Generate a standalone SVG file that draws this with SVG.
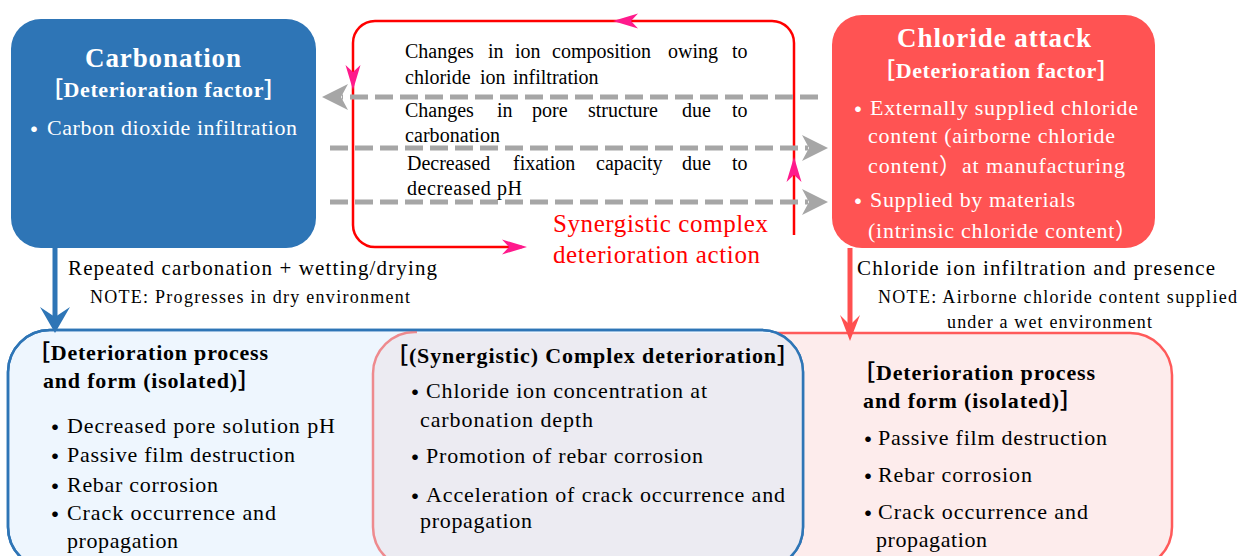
<svg xmlns="http://www.w3.org/2000/svg" width="1244" height="556" viewBox="0 0 1244 556">
<defs>
<style>
text{font-family:'Liberation Serif','Times New Roman',Tinos,'Noto Sans CJK JP',serif;fill:#000}
.w{fill:#fff}
.b{font-weight:bold}
.s18{font-size:18px}
.s20{font-size:20px}
.s21{font-size:21px}
.s22{font-size:22px}
.s25{font-size:25px}
.s27{font-size:27px}
.bul{font-family:'Noto Sans CJK JP',sans-serif;font-size:22px;font-weight:bold;text-anchor:middle}
.red{fill:#FF0000}
.dash{stroke:#A6A6A6;stroke-width:5;stroke-dasharray:18 7;fill:none}
.loop{stroke:#FF0000;stroke-width:2.5;fill:none}
</style>
<path id="gh" d="M0,0 L-26,-13 L-19,0 L-26,13 Z" fill="#A6A6A6"/>
<path id="ph" d="M0,0 L-25,-7.5 L-18,0 L-25,7.5 Z" fill="#FF1A8C"/>
<clipPath id="blueClip"><rect x="8" y="330" width="795" height="239" rx="42"/></clipPath>
</defs>

<!-- bottom boxes -->
<g id="node-chloride-process">
<rect x="373" y="333" width="799" height="236" rx="42" fill="#FDECEC" stroke="#FF5A5A" stroke-width="2.5"/>
</g>
<g id="node-carbonation-process">
<rect x="8" y="330" width="795" height="239" rx="42" fill="#EEF6FE" stroke="#2E75B6" stroke-width="2.5"/>
</g>
<g id="node-complex">
<rect x="373" y="333" width="799" height="236" rx="42" fill="#ECEBF2" clip-path="url(#blueClip)"/>
<path d="M417 332 A42 42 0 0 0 373 375 L373 527 A42 42 0 0 0 415 569" fill="none" stroke="#EE8A8E" stroke-width="2.5"/>
<rect x="8" y="330" width="795" height="239" rx="42" fill="none" stroke="#2E75B6" stroke-width="2.5"/>
</g>

<g id="text-carbonation-process">
<text class="b s22" x="28" y="360" textLength="240">［Deterioration process</text>
<text class="b s22" x="43" y="388" textLength="217">and form (isolated)］</text>
<text class="bul" x="55" y="435">・</text>
<text class="s22" x="67" y="433" textLength="268">Decreased pore solution pH</text>
<text class="bul" x="55" y="464">・</text>
<text class="s22" x="67" y="462" textLength="228">Passive film destruction</text>
<text class="bul" x="55" y="494">・</text>
<text class="s22" x="67" y="492" textLength="151">Rebar corrosion</text>
<text class="bul" x="55" y="522">・</text>
<text class="s22" x="67" y="520" textLength="209">Crack occurrence and</text>
<text class="s22" x="67" y="548" textLength="111">propagation</text>
</g>

<g id="text-complex">
<text class="b s22" x="386" y="363" textLength="413">［(Synergistic) Complex deterioration］</text>
<text class="bul" x="415" y="400">・</text>
<text class="s22" x="426" y="398" textLength="281">Chloride ion concentration at</text>
<text class="s22" x="420" y="427" textLength="173">carbonation depth</text>
<text class="bul" x="415" y="465">・</text>
<text class="s22" x="426" y="463" textLength="277">Promotion of rebar corrosion</text>
<text class="bul" x="415" y="504">・</text>
<text class="s22" x="426" y="502" textLength="359">Acceleration of crack occurrence and</text>
<text class="s22" x="420" y="528" textLength="112">propagation</text>
</g>

<g id="text-chloride-process">
<text class="b s22" x="853" y="380" textLength="242">［Deterioration process</text>
<text class="b s22" x="863" y="408" textLength="219">and form (isolated)］</text>
<text class="bul" x="868" y="447">・</text>
<text class="s22" x="878" y="445" textLength="229">Passive film destruction</text>
<text class="bul" x="868" y="484">・</text>
<text class="s22" x="878" y="482" textLength="154">Rebar corrosion</text>
<text class="bul" x="868" y="521">・</text>
<text class="s22" x="878" y="519" textLength="210">Crack occurrence and</text>
<text class="s22" x="876" y="547" textLength="111">propagation</text>
</g>

<!-- top factor boxes -->
<g id="node-carbonation">
<rect x="11" y="19" width="305" height="229" rx="30" fill="#2E75B6"/>
<text class="w b s27" x="85" y="67" textLength="156">Carbonation</text>
<text class="w b s22" x="41" y="97" textLength="245">［Deterioration factor］</text>
<text class="bul w" x="34" y="137">・</text>
<text class="w s22" x="47" y="135" textLength="250">Carbon dioxide infiltration</text>
</g>

<g id="node-chloride">
<rect x="832" y="15" width="323" height="233" rx="30" fill="#FF5353"/>
<text class="w b s27" x="897" y="47" textLength="194">Chloride attack</text>
<text class="w b s22" x="873" y="78" textLength="246">［Deterioration factor］</text>
<text class="bul w" x="858" y="117">・</text>
<text class="w s22" x="870" y="115" textLength="268">Externally supplied chloride</text>
<text class="w s22" x="868" y="143" textLength="247">content (airborne chloride</text>
<text class="w s22" x="868" y="173" textLength="257">content）at manufacturing</text>
<text class="bul w" x="858" y="209">・</text>
<text class="w s22" x="870" y="207" textLength="205">Supplied by materials</text>
<text class="w s22" x="868" y="238" textLength="269">(intrinsic chloride content）</text>
</g>

<!-- connectors -->
<g id="connectors">
<path class="loop" d="M794 235 V43 A22 22 0 0 0 772 21 H375 A22 22 0 0 0 353 43 V225 A22 22 0 0 0 375 247 H522"/>
<use href="#ph" transform="translate(613,21) rotate(180)"/>
<use href="#ph" transform="translate(353,90) rotate(90)"/>
<use href="#ph" transform="translate(794,157) rotate(-90)"/>
<use href="#ph" transform="translate(527,247)"/>

<path class="dash" d="M818 97 H342"/>
<use href="#gh" transform="translate(322,97) rotate(180)"/>
<path class="dash" d="M330 148 H808"/>
<use href="#gh" transform="translate(828,148)"/>
<path class="dash" d="M330 202 H808"/>
<use href="#gh" transform="translate(828,202)"/>

<path d="M55 248 V318" stroke="#2E75B6" stroke-width="5" fill="none"/>
<path d="M55 333 L40 307 L55 317 L70 307 Z" fill="#2E75B6"/>
<path d="M850 248 V325" stroke="#FF5050" stroke-width="5" fill="none"/>
<path d="M850 341 L840 315 L850 325 L860 315 Z" fill="#FF5050"/>

<g id="loop-text">
<text class="s20" y="58"><tspan x="405">Changes</tspan><tspan x="488">in</tspan><tspan x="515">ion</tspan><tspan x="552">composition</tspan><tspan x="668">owing</tspan><tspan x="732">to</tspan></text>
<text class="s20" y="84"><tspan x="405">chloride</tspan><tspan x="480">ion</tspan><tspan x="513">infiltration</tspan></text>
<text class="s20" y="117"><tspan x="405">Changes</tspan><tspan x="497">in</tspan><tspan x="532">pore</tspan><tspan x="588">structure</tspan><tspan x="682">due</tspan><tspan x="732">to</tspan></text>
<text class="s20" x="405" y="142" textLength="95">carbonation</text>
<text class="s20" y="170"><tspan x="407">Decreased</tspan><tspan x="513">fixation</tspan><tspan x="596">capacity</tspan><tspan x="682">due</tspan><tspan x="732">to</tspan></text>
<text class="s20" x="407" y="195" textLength="115">decreased pH</text>
<text class="red s25" x="553" y="232" textLength="215">Synergistic complex</text>
<text class="red s25" x="553" y="263" textLength="207">deterioration action</text>
</g>

<text class="s21" x="68" y="275" textLength="369">Repeated carbonation + wetting/drying</text>
<text class="s18" x="90" y="303" textLength="320">NOTE: Progresses in dry environment</text>
<text class="s21" x="857" y="275" textLength="358">Chloride ion infiltration  and presence</text>
<text class="s18" x="878" y="303" textLength="359">NOTE: Airborne chloride content supplied</text>
<text class="s18" x="947" y="328" textLength="205">under a wet environment</text>
</g>
</svg>
